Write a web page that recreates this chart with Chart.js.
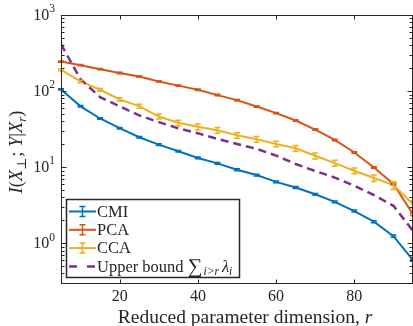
<!DOCTYPE html>
<html>
<head>
<meta charset="utf-8">
<script src="https://cdn.jsdelivr.net/npm/chart.js@4"></script>
<style>
  html, body { margin: 0; padding: 0; background: #fff; }
  #chart { display: block; }
</style>
</head>
<body>
<canvas id="chart" width="413" height="326"></canvas>
<script>
// reduced parameter dimension r
const rValues = [5, 10, 15, 20, 25, 30, 35, 40, 45, 50, 55, 60, 65, 70, 75, 80, 85, 90, 95];

const cmiValues = [105, 63, 43.6, 32.5, 24.7, 19.8, 16.2, 13.2, 11.2, 9.25, 7.87, 6.4, 5.4, 4.4, 3.5, 2.65, 1.92, 1.24, 0.6];
const cmiErr = [2, 1.4, 1, 0.8, 0.6, 0.5, 0.4, 0.35, 0.3, 0.25, 0.2, 0.17, 0.15, 0.12, 0.1, 0.08, 0.06, 0.04, 0.02];

const pcaValues = [244, 219, 194, 173, 155, 134, 118, 104, 88.5, 76, 62.8, 51.3, 41, 31.2, 22.8, 15.6, 9.9, 6.0, 2.4];
const pcaErr = [5, 4.5, 4, 3.5, 3, 2.8, 2.5, 2.2, 2, 1.6, 1.4, 1.1, 0.9, 0.7, 0.5, 0.35, 0.25, 0.15, 0.08];

const ccaValues = [190, 134, 104, 77.6, 63.4, 46.3, 38.3, 33.9, 30.6, 26.2, 23.2, 20.2, 17.7, 14.1, 11.3, 8.96, 7.2, 5.8, 3.26];
const ccaErr = [6, 5, 4.5, 4, 3.8, 3.5, 3.2, 3, 2.6, 2.2, 2, 1.7, 1.5, 1.3, 1.0, 0.8, 0.7, 0.7, 0.35];

const boundValues = [414, 143, 83, 63, 48, 39, 32.5, 27.9, 23.5, 20.2, 17.4, 14.2, 11, 8.9, 7.3, 5.7, 4.3, 3.1, 1.45];

const xTicks = [20, 40, 60, 80];
const yMajorTicks = [1, 10, 100, 1000];
const yMajorLabels = ['0', '1', '2', '3'];

const COLORS = {
    cmi: '#0072BD',
    pca: '#D95319',
    cca: '#EDB120',
    bound: '#7E2F8E',
    axis: '#262626'
};
const SERIF = '"Liberation Serif", "DejaVu Serif", serif';

function toPoints(values) {
    return rValues.map((r, i) => ({ x: r, y: values[i] }));
}

// draw a row of text pieces (italic / sub / sup), returns total width
function drawRuns(ctx, runs, x, y, size, measureOnly) {
    let cx = x;
    runs.forEach(run => {
        const scale = run.scale || ((run.sub || run.sup) ? 0.7 : 1);
        const fs = size * scale;
        ctx.font = (run.italic ? 'italic ' : '') + fs + 'px ' + SERIF;
        let dy = 0;
        if (run.sub) dy = size * 0.28;
        if (run.sup) dy = -size * 0.42;
        if (!measureOnly) ctx.fillText(run.t, cx, y + dy);
        cx += ctx.measureText(run.t).width + (run.gap || 0);
    });
    return cx - x;
}

const errorBarPlugin = {
    id: 'errorBars',
    afterDatasetsDraw(chart) {
        const ctx = chart.ctx;
        const yScale = chart.scales.y;
        const xScale = chart.scales.x;
        ctx.save();
        chart.data.datasets.forEach(ds => {
            if (!ds.errors) return;
            ctx.strokeStyle = ds.borderColor;
            ctx.lineWidth = 1.5;
            ds.data.forEach((p, i) => {
                const e = ds.errors[i];
                const px = xScale.getPixelForValue(p.x);
                const yTop = yScale.getPixelForValue(p.y + e);
                const yBot = yScale.getPixelForValue(Math.max(p.y - e, 1e-3));
                ctx.beginPath();
                ctx.moveTo(px, yTop);
                ctx.lineTo(px, yBot);
                ctx.moveTo(px - 3, yTop);
                ctx.lineTo(px + 3, yTop);
                ctx.moveTo(px - 3, yBot);
                ctx.lineTo(px + 3, yBot);
                ctx.stroke();
            });
        });
        ctx.restore();
    }
};

const axesPlugin = {
    id: 'matlabAxes',
    afterDraw(chart) {
        const ctx = chart.ctx;
        const area = chart.chartArea;
        const xScale = chart.scales.x;
        const yScale = chart.scales.y;
        const L = Math.round(area.left) + 0.5;
        const R = Math.round(area.right) - 0.5;
        const T = Math.round(area.top) + 0.5;
        const B = Math.round(area.bottom) + 0.5;

        ctx.save();
        ctx.strokeStyle = COLORS.axis;
        ctx.lineWidth = 1;
        ctx.strokeRect(L, T, R - L, B - T);

        // x ticks, inside, top and bottom
        ctx.beginPath();
        xTicks.forEach(v => {
            const px = Math.round(xScale.getPixelForValue(v)) + 0.5;
            ctx.moveTo(px, B); ctx.lineTo(px, B - 4);
            ctx.moveTo(px, T); ctx.lineTo(px, T + 4);
        });
        // y log ticks, major and minor, left and right
        for (let k = -1; k <= 3; k++) {
            for (let m = 1; m <= 9; m++) {
                const v = m * Math.pow(10, k);
                if (v < yScale.min || v > yScale.max) continue;
                const py = Math.round(yScale.getPixelForValue(v)) + 0.5;
                const len = m === 1 ? 5 : 3;
                ctx.moveTo(L, py); ctx.lineTo(L + len, py);
                ctx.moveTo(R, py); ctx.lineTo(R - len, py);
            }
        }
        ctx.stroke();

        // tick labels
        ctx.fillStyle = COLORS.axis;
        ctx.textBaseline = 'middle';
        ctx.textAlign = 'center';
        ctx.font = '16px ' + SERIF;
        xTicks.forEach(v => {
            ctx.fillText(String(v), xScale.getPixelForValue(v), 297);
        });
        ctx.textAlign = 'left';
        yMajorTicks.forEach((v, i) => {
            const py = yScale.getPixelForValue(v) + 1;
            const runs = [{ t: '10' }, { t: yMajorLabels[i], sup: true, scale: 0.72 }];
            const w = drawRuns(ctx, runs, 0, 0, 16, true);
            drawRuns(ctx, runs, 55 - w, py, 16);
        });

        // x axis title
        ctx.textAlign = 'left';
        const xRuns = [{ t: 'Reduced parameter dimension, ' }, { t: 'r', italic: true }];
        const xw = drawRuns(ctx, xRuns, 0, 0, 19.5, true);
        drawRuns(ctx, xRuns, (L + R) / 2 - xw / 2 + 8, 318, 19.5);

        // y axis title, rotated
        const yRuns = [
            { t: 'I', italic: true, scale: 1 }, { t: '(' },
            { t: 'X', italic: true }, { t: '\u22A5', sub: true, gap: 1 }, { t: '; ', gap: 0 },
            { t: 'Y', italic: true }, { t: '|' },
            { t: 'X', italic: true }, { t: 'r', italic: true, sub: true }, { t: ')' }
        ];
        const yw = drawRuns(ctx, yRuns, 0, 0, 18.5, true);
        ctx.translate(17, 152);
        ctx.rotate(-Math.PI / 2);
        drawRuns(ctx, yRuns, -yw / 2, 0, 18.5);
        ctx.restore();

        // legend
        ctx.save();
        const bx = 66.5, by = 199.5, bw = 173, bh = 78;
        ctx.fillStyle = '#fff';
        ctx.fillRect(bx, by, bw, bh);
        ctx.strokeStyle = COLORS.axis;
        ctx.lineWidth = 1.5;
        ctx.strokeRect(bx, by, bw, bh);

        const rows = [
            { label: [{ t: 'CMI' }], color: COLORS.cmi, err: true },
            { label: [{ t: 'PCA' }], color: COLORS.pca, err: true },
            { label: [{ t: 'CCA' }], color: COLORS.cca, err: true },
            {
                label: [{ t: 'Upper bound ' }, { t: '\u2211', scale: 1.25, gap: 1 }, { t: 'i>r', italic: true, sub: true, gap: 3 },
                        { t: '\u03BB', italic: true }, { t: 'i', italic: true, sub: true }],
                color: COLORS.bound, err: false
            }
        ];
        ctx.textBaseline = 'middle';
        ctx.textAlign = 'left';
        rows.forEach((row, i) => {
            const cy = 211.5 + i * 18.3;
            ctx.strokeStyle = row.color;
            if (row.err) {
                ctx.lineWidth = 2;
                ctx.beginPath();
                ctx.moveTo(69, cy); ctx.lineTo(96, cy);
                ctx.stroke();
                ctx.lineWidth = 1.5;
                ctx.beginPath();
                ctx.moveTo(82.5, cy - 5); ctx.lineTo(82.5, cy + 5);
                ctx.moveTo(79.5, cy - 5); ctx.lineTo(85.5, cy - 5);
                ctx.moveTo(79.5, cy + 5); ctx.lineTo(85.5, cy + 5);
                ctx.stroke();
            } else {
                ctx.lineWidth = 2.5;
                ctx.beginPath();
                ctx.moveTo(69, cy); ctx.lineTo(77, cy);
                ctx.moveTo(87, cy); ctx.lineTo(95, cy);
                ctx.stroke();
            }
            ctx.fillStyle = COLORS.axis;
            drawRuns(ctx, row.label, 97, cy + 1, 16.5);
        });
        ctx.restore();
    }
};

new Chart(document.getElementById('chart'), {
    type: 'line',
    data: {
        datasets: [
            { label: 'CMI', data: toPoints(cmiValues), errors: cmiErr, borderColor: COLORS.cmi, order: 4 },
            { label: 'PCA', data: toPoints(pcaValues), errors: pcaErr, borderColor: COLORS.pca, order: 3 },
            { label: 'CCA', data: toPoints(ccaValues), errors: ccaErr, borderColor: COLORS.cca, order: 2 },
            { label: 'Upper bound', data: toPoints(boundValues), borderColor: COLORS.bound, borderDash: [8, 5], borderWidth: 2.5, order: 1 }
        ]
    },
    options: {
        responsive: false,
        devicePixelRatio: 1,
        animation: false,
        layout: { padding: { top: 15, right: 0, left: 0, bottom: 0 } },
        elements: {
            line: { borderWidth: 2, tension: 0, fill: false },
            point: { radius: 0, hoverRadius: 0 }
        },
        scales: {
            x: {
                type: 'linear',
                min: 5,
                max: 95,
                grid: { display: false },
                border: { display: false },
                ticks: { display: false },
                afterFit(scale) { scale.height = 43; }
            },
            y: {
                type: 'logarithmic',
                min: 0.3,
                max: 1000,
                grid: { display: false },
                border: { display: false },
                ticks: { display: false },
                afterFit(scale) { scale.width = 61; }
            }
        },
        plugins: {
            legend: { display: false },
            tooltip: { enabled: false }
        }
    },
    plugins: [errorBarPlugin, axesPlugin]
});
</script>
</body>
</html>
